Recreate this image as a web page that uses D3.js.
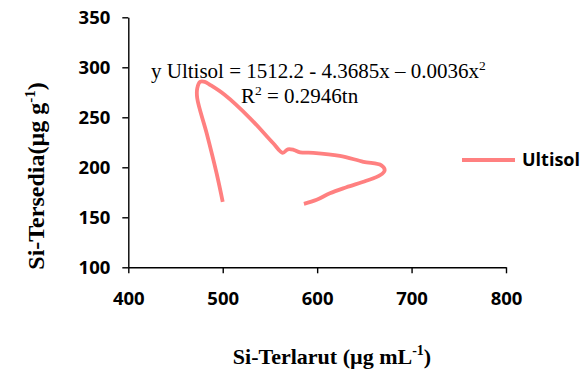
<!DOCTYPE html>
<html>
<head>
<meta charset="utf-8">
<script src="https://cdn.jsdelivr.net/npm/d3@7"></script>
<style>
  html, body { margin: 0; padding: 0; background: #fff; }
  svg { display: block; }
</style>
</head>
<body>
<svg id="chart" width="585" height="376"></svg>
<script>
// ---- data ----
const seriesName = "Ultisol";
const siTerlarut = [500, 493.5, 483, 473, 473, 476, 481, 486.5, 502, 529, 553.5, 563.5, 569, 575, 582, 596, 624, 649, 668, 671.5, 666.5, 652, 631, 613.5, 599.5, 586];
const siTersedia = [165.5, 194, 234, 269, 279, 285.5, 285.5, 282.5, 272.5, 249, 224, 214.5, 218, 217.5, 215, 214.5, 211.5, 205.5, 202, 197, 192, 186.5, 180, 174, 167.5, 163.5];
const xTicks = [400, 500, 600, 700, 800];
const yTicks = [100, 150, 200, 250, 300, 350];
const equationText = "y Ultisol = 1512.2 - 4.3685x \u2013 0.0036x";
const r2Text = " = 0.2946tn";

const svg = d3.select("#chart");
const x = d3.scaleLinear().domain([400, 800]).range([128.3, 506]);
const y = d3.scaleLinear().domain([100, 350]).range([267.3, 17.3]);
const lineColor = "#FF8080";
const tickFont = "'Open Sans', Lato, sans-serif";
const serif = "'Liberation Serif', 'Times New Roman', serif";

// x axis
const xAxis = svg.append("g")
  .attr("transform", `translate(0,${y(100)})`)
  .call(d3.axisBottom(x).tickValues(xTicks).tickSize(6).tickSizeOuter(0).tickPadding(19));
// y axis
const yAxis = svg.append("g")
  .attr("transform", `translate(${x(400)},0)`)
  .call(d3.axisLeft(y).tickValues(yTicks).tickSize(6).tickSizeOuter(0).tickPadding(12));

[xAxis, yAxis].forEach(g => {
  g.select(".domain").attr("stroke", "#000").attr("stroke-width", 1.4);
  g.selectAll(".tick line").attr("stroke", "#000").attr("stroke-width", 1.4);
  g.selectAll(".tick text")
    .attr("fill", "#000")
    .style("font-family", tickFont)
    .style("font-weight", "700")
    .style("font-size", "18.5px");
});

// curve
const pts = siTerlarut.map((v, i) => [v, siTersedia[i]]);
svg.append("path")
  .datum(pts)
  .attr("fill", "none")
  .attr("stroke", lineColor)
  .attr("stroke-width", 3.8)
  .attr("stroke-linejoin", "round")
  .attr("stroke-linecap", "butt")
  .attr("d", d3.line().x(d => x(d[0])).y(d => y(d[1])).curve(d3.curveCatmullRom.alpha(0.5)));

// equation
const eq = svg.append("text")
  .attr("x", 151).attr("y", 78)
  .style("font-family", serif).style("font-size", "21px").attr("fill", "#000");
eq.append("tspan").text(equationText);
eq.append("tspan").attr("dy", -8).style("font-size", "13.5px").text("2");

const r2 = svg.append("text")
  .attr("x", 241).attr("y", 103)
  .style("font-family", serif).style("font-size", "21px").attr("fill", "#000");
r2.append("tspan").text("R");
r2.append("tspan").attr("dy", -8).style("font-size", "13.5px").text("2");
r2.append("tspan").attr("dy", 8).text(r2Text);

// legend
svg.append("line")
  .attr("x1", 462).attr("x2", 515).attr("y1", 160).attr("y2", 160)
  .attr("stroke", lineColor).attr("stroke-width", 4);
svg.append("text")
  .attr("x", 522).attr("y", 160).attr("dy", "0.36em")
  .style("font-family", tickFont).style("font-weight", "700").style("font-size", "18px")
  .text(seriesName);

// x axis title
const xt = svg.append("text")
  .attr("x", 332).attr("y", 364).attr("text-anchor", "middle")
  .style("font-family", serif).style("font-weight", "bold").style("font-size", "22px");
xt.append("tspan").text("Si-Terlarut (\u00b5g mL");
xt.append("tspan").attr("dy", -9).style("font-size", "14px").text("-1");
xt.append("tspan").attr("dy", 9).text(")");

// y axis title
const yt = svg.append("text")
  .attr("transform", "translate(44,176) rotate(-90)")
  .attr("text-anchor", "middle")
  .style("font-family", serif).style("font-weight", "bold").style("font-size", "24px");
yt.append("tspan").text("Si-Tersedia(\u00b5g g");
yt.append("tspan").attr("dy", -9).style("font-size", "15px").text("-1");
yt.append("tspan").attr("dy", 9).text(")");
</script>
</body>
</html>
